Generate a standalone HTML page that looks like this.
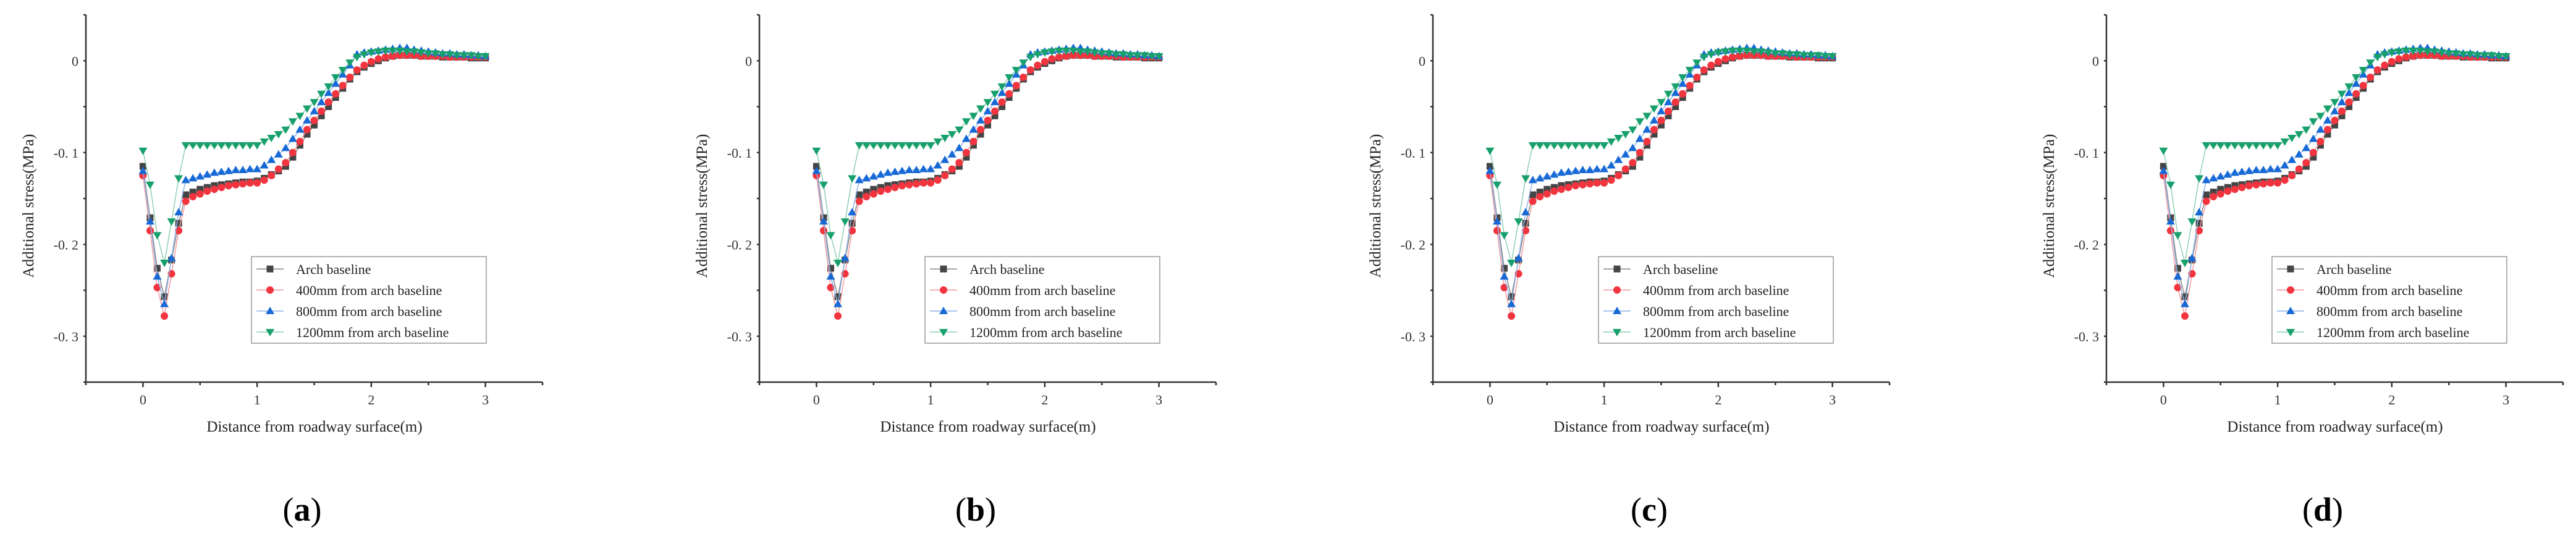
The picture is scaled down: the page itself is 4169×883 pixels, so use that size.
<!DOCTYPE html>
<html><head><meta charset="utf-8"><style>
html,body{margin:0;padding:0;background:#fff;}
svg{display:block;font-family:"Liberation Serif",serif;}
</style></head><body>
<svg id="fig" width="4169" height="883" viewBox="0 0 4169 883" xmlns="http://www.w3.org/2000/svg"></svg>
<script>
const panelLabels = ["a","b","c","d"];
const xTicks = [0,1,2,3];
const yTicks = [0,-0.1,-0.2,-0.3];
const yTickLabels = ["0","-0. 1","-0. 2","-0. 3"];
const seriesNames = ["Arch baseline","400mm from arch baseline","800mm from arch baseline","1200mm from arch baseline"];
const xValues = [0,0.0625,0.125,0.1875,0.25,0.3125,0.375,0.4375,0.5,0.5625,0.625,0.6875,0.75,0.8125,0.875,0.9375,1,1.0625,1.125,1.1875,1.25,1.3125,1.375,1.4375,1.5,1.5625,1.625,1.6875,1.75,1.8125,1.875,1.9375,2,2.0625,2.125,2.1875,2.25,2.3125,2.375,2.4375,2.5,2.5625,2.625,2.6875,2.75,2.8125,2.875,2.9375,3];
const archValues = [-0.115,-0.171,-0.226,-0.257,-0.217,-0.177,-0.146,-0.143,-0.140,-0.138,-0.136,-0.135,-0.134,-0.133,-0.132,-0.132,-0.131,-0.128,-0.124,-0.120,-0.115,-0.105,-0.092,-0.080,-0.070,-0.060,-0.050,-0.040,-0.030,-0.020,-0.012,-0.007,-0.003,0.000,0.003,0.005,0.006,0.006,0.006,0.005,0.005,0.005,0.004,0.004,0.004,0.004,0.003,0.003,0.003];
const mm400Values = [-0.125,-0.185,-0.247,-0.278,-0.232,-0.185,-0.153,-0.148,-0.145,-0.142,-0.140,-0.138,-0.136,-0.135,-0.134,-0.133,-0.133,-0.130,-0.125,-0.118,-0.111,-0.100,-0.088,-0.075,-0.065,-0.055,-0.045,-0.036,-0.027,-0.018,-0.010,-0.005,-0.001,0.002,0.004,0.005,0.006,0.006,0.006,0.005,0.005,0.005,0.005,0.004,0.004,0.004,0.004,0.004,0.004];
const mm800Values = [-0.120,-0.175,-0.235,-0.265,-0.215,-0.165,-0.130,-0.128,-0.126,-0.124,-0.122,-0.121,-0.120,-0.119,-0.119,-0.118,-0.118,-0.114,-0.108,-0.102,-0.095,-0.085,-0.075,-0.065,-0.055,-0.045,-0.035,-0.025,-0.015,-0.005,0.007,0.009,0.010,0.011,0.012,0.013,0.014,0.014,0.012,0.011,0.010,0.009,0.008,0.008,0.007,0.007,0.006,0.006,0.005];
const mm1200Values = [-0.098,-0.135,-0.190,-0.220,-0.175,-0.128,-0.092,-0.092,-0.092,-0.092,-0.092,-0.092,-0.092,-0.092,-0.092,-0.092,-0.092,-0.088,-0.084,-0.080,-0.075,-0.066,-0.060,-0.052,-0.045,-0.036,-0.028,-0.018,-0.010,-0.002,0.004,0.007,0.009,0.010,0.011,0.011,0.011,0.010,0.010,0.009,0.008,0.008,0.007,0.007,0.006,0.006,0.006,0.005,0.005];
const allSeries = [archValues, mm400Values, mm800Values, mm1200Values];
const colors = ["#444444","#f2343e","#1769d6","#17a06c"];
const lineColors = ["#888888","#f49a9e","#8fb3e8","#8fcfb5"];
const shapes = ["square","circle","up","down"];

const NS = "http://www.w3.org/2000/svg";
const fig = document.getElementById("fig");
function mk(tag, attrs, parent){const e=document.createElementNS(NS,tag);for(const k in attrs)e.setAttribute(k,attrs[k]);parent.appendChild(e);return e;}
function marker(g, shape, cx, cy, col){
  let e;
  if(shape==="square") e=mk("rect",{x:cx-5.5,y:cy-5.5,width:11,height:11,fill:col},g);
  else if(shape==="circle") e=mk("circle",{cx:cx,cy:cy,r:6,fill:col},g);
  else if(shape==="up") e=mk("polygon",{points:`${cx},${cy-7} ${cx-7},${cy+5} ${cx+7},${cy+5}`,fill:col},g);
  else e=mk("polygon",{points:`${cx},${cy+7} ${cx-7},${cy-5} ${cx+7},${cy-5}`,fill:col},g);
  return e;
}
const xMin=-0.5,xMax=3.5,yMin=-0.35,yMax=0.05;
const W=739,top0=24,bot=618;
panelLabels.forEach((lab,p)=>{
  const ox=139+p*1090;
  const sx=v=>ox+(v-xMin)/(xMax-xMin)*W;
  const sy=v=>bot-(v-yMin)/(yMax-yMin)*(bot-top0);
  const g=mk("g",{},fig);
  
  
  const ax=mk("g",{stroke:"#333","stroke-width":2.5},g);
  
  
  mk("line",{x1:ox,y1:top0,x2:ox,y2:bot},ax);
  mk("line",{x1:ox,y1:bot,x2:ox+W,y2:bot},ax);
  for(let v=-0.35;v<=0.0501;v+=0.05){const y=sy(v);mk("line",{x1:ox-4,y1:y,x2:ox,y2:y},ax);}
  for(let v=-0.5;v<=3.501;v+=0.5){const x=sx(v);mk("line",{x1:x,y1:bot,x2:x,y2:bot+(Number.isInteger(v)?8:5)},ax);}
  yTicks.forEach((v,i)=>{const t=mk("text",{x:ox-12,y:sy(v)+8,"text-anchor":"end","font-size":22,fill:"#333"},g);t.textContent=yTickLabels[i];
    });
  xTicks.forEach(v=>{const t=mk("text",{x:sx(v),y:bot+36,"text-anchor":"middle","font-size":22,fill:"#333"},g);t.textContent=String(v);
    });
  const yt=mk("text",{x:0,y:0,transform:`translate(${ox-85},${(top0+bot)/2+12}) rotate(-90)`,"text-anchor":"middle","font-size":25,fill:"#222"},g);
  yt.textContent="Additional stress(MPa)";
  
  const xt=mk("text",{x:ox+370,y:698,"text-anchor":"middle","font-size":25,fill:"#222"},g);
  xt.textContent="Distance from roadway surface(m)";
  
  allSeries.forEach((vals,s)=>{
    const sg=mk("g",{},g);
    
    
    const pts=vals.map((v,i)=>`${sx(xValues[i])},${sy(v)}`).join(" ");
    mk("polyline",{points:pts,fill:"none",stroke:lineColors[s],"stroke-width":1.5},sg);
    vals.forEach((v,i)=>{const m=marker(sg,shapes[s],sx(xValues[i]),sy(v),colors[s]);
      });
  });
  const lx=ox+268, ly=415;
  const lg=mk("g",{},g);
  
  
  mk("rect",{x:lx,y:ly,width:380,height:140,fill:"#fff",stroke:"#999","stroke-width":1.5},lg);
  seriesNames.forEach((n,s)=>{
    const y=ly+20+s*34;
    mk("line",{x1:lx+8,y1:y,x2:lx+52,y2:y,stroke:lineColors[s],"stroke-width":1.5},lg);
    marker(lg,shapes[s],lx+30,y,colors[s]);
    const t=mk("text",{x:lx+72,y:y+8,"font-size":22,fill:"#222"},lg);t.textContent=n;
    
  });
  const pl=mk("text",{x:ox+350,y:842,"text-anchor":"middle","font-size":54,fill:"#000"},g);
  
  
  const a=document.createElementNS(NS,"tspan");a.textContent="(";pl.appendChild(a);
  const b=document.createElementNS(NS,"tspan");b.setAttribute("font-weight","bold");b.textContent=lab;pl.appendChild(b);
  const c=document.createElementNS(NS,"tspan");c.textContent=")";pl.appendChild(c);
});
</script>
</body></html>
